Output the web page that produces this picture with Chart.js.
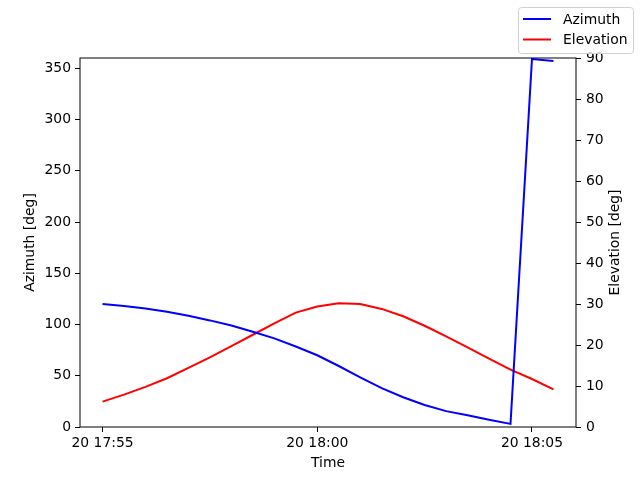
<!DOCTYPE html>
<html>
<head>
<meta charset="utf-8">
<script src="https://cdn.jsdelivr.net/npm/chart.js@4/dist/chart.umd.min.js"></script>
<style>
    html, body { margin: 0; padding: 0; background: #fff; }
    #wrap { width: 640px; height: 480px; position: relative; }
</style>
</head>
<body>
<div id="wrap"><canvas id="chart" width="640" height="480"></canvas></div>
<script>
// sample times, every 30 s on day 20
const times = ['17:55:00', '17:55:30', '17:56:00', '17:56:30', '17:57:00', '17:57:30',
    '17:58:00', '17:58:30', '17:59:00', '17:59:30', '18:00:00', '18:00:30',
    '18:01:00', '18:01:30', '18:02:00', '18:02:30', '18:03:00', '18:03:30',
    '18:04:00', '18:04:30', '18:05:00', '18:05:30'];
const azimuth = [120, 118, 115.5, 112.5, 108.5, 104, 99, 93, 86.5, 78.5, 70, 59.5,
    48.5, 38, 29, 21.5, 15.5, 11.5, 7, 3, 359, 357];
const elevation = [6.2, 7.9, 9.8, 11.9, 14.4, 17.0, 19.7, 22.5, 25.3, 27.9, 29.4, 30.2,
    30.0, 28.8, 27.0, 24.7, 22.1, 19.4, 16.7, 14.0, 11.7, 9.2];
const xTicks = ['17:55', '18:00', '18:05'];
const azTicks = [0, 50, 100, 150, 200, 250, 300, 350];
const elTicks = [0, 10, 20, 30, 40, 50, 60, 70, 80, 90];
const dayLabel = '20';

const FONT = 'DejaVu Sans';
const FSIZE = 13.9;

// seconds since 17:55:00
function toSec(t) {
    let p = t.split(':').map(Number);
    return (p[0] - 17) * 3600 + (p[1] - 55) * 60 + (p[2] || 0);
}

function toLabel(sec) {
    let total = 17 * 3600 + 55 * 60 + sec;
    let h = Math.floor(total / 3600);
    let m = Math.round((total % 3600) / 60);
    return `${dayLabel} ${String(h).padStart(2, '0')}:${String(m).padStart(2, '0')}`;
}

let xs = times.map(toSec);
let span = xs[xs.length - 1] - xs[0];
let xMin = xs[0] - span * 0.05;
let xMax = xs[xs.length - 1] + span * 0.05;

// box around the plot area + right axis title (reads bottom to top like matplotlib)
const frame = {
    id: 'frame',
    afterDraw(c) {
        const { ctx, chartArea: a } = c;
        ctx.save();
        ctx.strokeStyle = '#000';
        ctx.lineWidth = 1;
        ctx.strokeRect(a.left, a.top, a.right - a.left, a.bottom - a.top);
        ctx.translate(615, (a.top + a.bottom) / 2);
        ctx.rotate(-Math.PI / 2);
        ctx.fillStyle = '#000';
        ctx.font = `${FSIZE}px "${FONT}"`;
        ctx.textAlign = 'center';
        ctx.textBaseline = 'middle';
        ctx.fillText('Elevation [deg]', 0, 0);
        ctx.restore();
    }
};

// figure legend in the top right corner
const figLegend = {
    id: 'figLegend',
    afterDraw(c) {
        const ctx = c.ctx;
        ctx.save();
        let x = 518.5, y = 7.5, w = 115, h = 46;
        ctx.fillStyle = 'rgba(255,255,255,0.8)';
        ctx.strokeStyle = '#d0d0d0';
        ctx.lineWidth = 1;
        ctx.beginPath();
        ctx.roundRect(x, y, w, h, 3);
        ctx.fill();
        ctx.stroke();
        ctx.font = `${FSIZE}px "${FONT}"`;
        ctx.textBaseline = 'middle';
        c.data.datasets.forEach((ds, i) => {
            let ly = 19 + i * 20.5;
            ctx.strokeStyle = ds.borderColor;
            ctx.lineWidth = 2;
            ctx.beginPath();
            ctx.moveTo(523, ly);
            ctx.lineTo(551, ly);
            ctx.stroke();
            ctx.fillStyle = '#000';
            ctx.fillText(ds.label, 563, ly + 1);
        });
        ctx.restore();
    }
};

const tickStyle = { color: '#000', font: { family: FONT, size: FSIZE } };
const gridStyle = { drawOnChartArea: false, drawTicks: true, tickLength: 5, tickColor: '#000', tickWidth: 1 };

new Chart(document.getElementById('chart'), {
    type: 'line',
    data: {
        datasets: [{
            label: 'Azimuth',
            data: xs.map((x, i) => ({ x: x, y: azimuth[i] })),
            borderColor: '#0000ff',
            borderWidth: 2,
            pointRadius: 0,
            yAxisID: 'yAz'
        }, {
            label: 'Elevation',
            data: xs.map((x, i) => ({ x: x, y: elevation[i] })),
            borderColor: '#ff0000',
            borderWidth: 2,
            pointRadius: 0,
            yAxisID: 'yEl'
        }]
    },
    options: {
        responsive: false,
        animation: false,
        layout: { padding: { top: 58, left: 0, right: 0, bottom: 0 } },
        plugins: { legend: { display: false }, tooltip: { enabled: false } },
        scales: {
            x: {
                type: 'linear',
                min: xMin,
                max: xMax,
                afterBuildTicks: s => { s.ticks = xTicks.map(t => ({ value: toSec(t + ':00') })); },
                afterFit: s => { s.height = 53; },
                ticks: { ...tickStyle, padding: 3, maxRotation: 0, callback: v => toLabel(v) },
                grid: gridStyle,
                border: { display: false },
                title: { display: true, text: 'Time', color: '#000', font: { family: FONT, size: FSIZE }, padding: { top: 4, bottom: 8 } }
            },
            yAz: {
                position: 'left',
                min: 0,
                max: 360,
                afterBuildTicks: s => { s.ticks = azTicks.map(v => ({ value: v })); },
                afterFit: s => { s.width = 80; },
                ticks: { ...tickStyle, padding: 4 },
                grid: gridStyle,
                border: { display: false },
                title: { display: true, text: 'Azimuth [deg]', color: '#000', font: { family: FONT, size: FSIZE }, padding: { top: 22, bottom: 4 } }
            },
            yEl: {
                position: 'right',
                min: 0,
                max: 90,
                afterBuildTicks: s => { s.ticks = elTicks.map(v => ({ value: v })); },
                afterFit: s => { s.width = 64; },
                ticks: { ...tickStyle, padding: 5 },
                grid: gridStyle,
                border: { display: false },
                title: { display: false }
            }
        }
    },
    plugins: [frame, figLegend]
});
</script>
</body>
</html>
